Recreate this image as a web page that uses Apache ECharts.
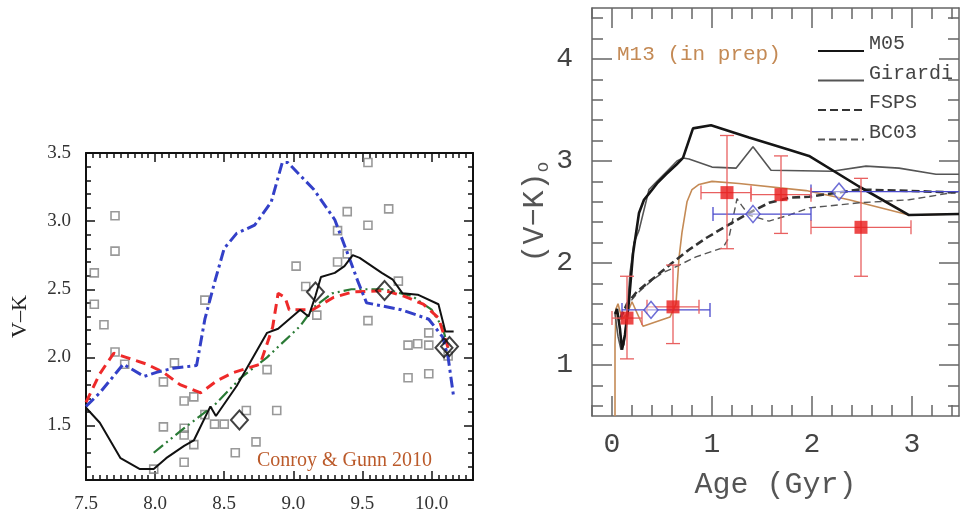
<!DOCTYPE html>
<html><head><meta charset="utf-8">
<script src="https://cdn.jsdelivr.net/npm/echarts@6.0.0/dist/echarts.min.js"></script>
<style>html,body{margin:0;padding:0;background:#fff}#c{width:963px;height:515px}</style>
</head><body><div id="c"></div>
<script>
// ---------- Left panel (Conroy & Gunn 2010): log age vs V-K ----------
const leftXTicks = [7.5, 8.0, 8.5, 9.0, 9.5, 10.0];
const leftYTicks = [1.5, 2.0, 2.5, 3.0, 3.5];

const cgBlackX = [7.5,7.6,7.75,7.89,7.99,8.08,8.21,8.28,8.40,8.44,8.59,8.81,8.89,9.05,9.11,9.16,9.20,9.30,9.37,9.43,9.48,9.64,9.72,9.79,9.90,10.05,10.10,10.16];
const cgBlackY = [1.63,1.52,1.26,1.18,1.18,1.26,1.35,1.39,1.64,1.57,1.79,2.18,2.21,2.35,2.30,2.45,2.59,2.62,2.67,2.75,2.73,2.62,2.57,2.47,2.46,2.39,2.19,2.19];

const cgBlueX = [7.5,7.6,7.77,7.92,8.01,8.13,8.30,8.36,8.43,8.50,8.59,8.72,8.84,8.92,8.96,9.15,9.30,9.39,9.47,9.53,9.78,9.98,10.08,10.12,10.16];
const cgBlueY = [1.64,1.74,1.95,1.86,1.89,1.92,1.94,2.28,2.55,2.80,2.91,2.97,3.14,3.43,3.43,3.23,3.01,2.77,2.55,2.40,2.35,2.28,2.15,2.00,1.71];

const cgRedX = [7.5,7.60,7.70,7.79,7.94,8.06,8.18,8.33,8.45,8.57,8.76,8.85,8.89,8.94,8.97,9.14,9.29,9.43,9.66,9.80,9.94,10.05,10.12];
const cgRedY = [1.67,1.88,2.03,2.00,1.95,1.89,1.80,1.74,1.83,1.89,1.95,2.22,2.47,2.44,2.35,2.35,2.44,2.48,2.49,2.45,2.39,2.29,2.07];

const cgGreenX = [7.99,8.21,8.43,8.62,8.81,9.05,9.15,9.28,9.42,9.66,9.86,10.00,10.08,10.12];
const cgGreenY = [1.30,1.48,1.65,1.85,2.00,2.23,2.37,2.47,2.50,2.50,2.45,2.35,2.22,2.07];

const clusterX = [7.56,7.56,7.63,7.71,7.71,7.71,7.78,7.99,8.06,8.06,8.14,8.21,8.21,8.21,8.21,8.28,8.28,8.36,8.36,8.43,8.50,8.58,8.66,8.73,8.81,8.88,9.02,9.09,9.17,9.32,9.32,9.39,9.39,9.54,9.54,9.54,9.69,9.76,9.83,9.83,9.90,9.98,9.98,9.98,10.12];
const clusterY = [2.62,2.39,2.24,3.04,2.78,2.04,1.95,1.18,1.82,1.49,1.96,1.68,1.48,1.43,1.23,1.71,1.36,2.42,1.58,1.51,1.51,1.30,1.61,1.38,1.91,1.61,2.67,2.52,2.31,2.93,2.70,3.07,2.76,3.43,2.97,2.27,3.09,2.56,2.09,1.85,2.10,2.18,2.09,1.88,2.01];

const diamondX = [8.61, 9.16, 9.66, 10.09, 10.13];
const diamondY = [1.54, 2.48, 2.49, 2.07, 2.08];

// ---------- Right panel: Age (Gyr) vs (V-K)o ----------
const rightXTicks = [0, 1, 2, 3];
const rightYTicks = [1, 2, 3, 4];

const m05X = [0.03,0.05,0.08,0.10,0.13,0.17,0.21,0.27,0.32,0.37,0.45,0.54,0.64,0.71,0.81,0.99,1.37,1.77,1.97,2.47,2.97,3.47];
const m05Y = [1.50,1.55,1.35,1.15,1.30,1.63,2.09,2.49,2.62,2.68,2.78,2.87,2.96,3.03,3.32,3.35,3.23,3.11,3.05,2.75,2.47,2.48];

const girX = [0.03,0.06,0.09,0.12,0.15,0.18,0.22,0.27,0.37,0.45,0.55,0.65,0.71,0.77,1.00,1.24,1.41,1.59,2.20,2.54,2.87,3.24,3.47];
const girY = [1.50,1.28,1.15,1.20,1.50,1.90,2.20,2.32,2.72,2.80,2.90,3.00,3.03,3.02,2.94,2.93,3.14,2.91,2.90,2.95,2.93,2.87,2.87];

const fspsX = [0.08,0.15,0.25,0.35,0.44,0.60,0.77,0.95,1.14,1.37,1.57,1.77,1.97,2.47,2.87,3.47];
const fspsY = [1.45,1.60,1.72,1.80,1.87,2.00,2.13,2.25,2.36,2.49,2.59,2.64,2.65,2.72,2.71,2.69];

const bc03X = [0.08,0.15,0.25,0.40,0.50,0.61,0.84,1.11,1.17,1.25,1.30,1.37,1.57,1.77,1.97,2.47,2.97,3.47];
const bc03Y = [1.45,1.58,1.70,1.83,1.90,1.95,2.06,2.15,2.25,2.63,2.56,2.47,2.41,2.47,2.54,2.59,2.62,2.70];

const m13X = [0.03,0.03,0.04,0.06,0.10,0.15,0.20,0.31,0.58,0.64,0.67,0.70,0.75,0.80,0.87,1.00,1.27,1.94,2.37,2.97,3.47];
const m13Y = [0.50,1.20,1.55,1.60,1.45,1.50,1.62,1.38,1.47,1.60,2.05,2.30,2.60,2.72,2.77,2.80,2.78,2.71,2.62,2.47,2.48];

const redX    = [0.15, 0.61, 1.15, 1.69, 2.49];
const redY    = [1.46, 1.57, 2.69, 2.67, 2.35];
const redXLo  = [0.00, 0.35, 0.89, 1.39, 1.99];
const redXHi  = [0.30, 0.87, 1.39, 1.99, 2.99];
const redYLo  = [1.06, 1.21, 2.14, 2.29, 1.87];
const redYHi  = [1.87, 1.98, 3.25, 3.05, 2.83];

const blueX   = [0.39, 1.41, 2.27];
const blueY   = [1.54, 2.48, 2.70];
const blueXLo = [0.10, 1.01, 1.99];
const blueXHi = [0.98, 1.99, 3.60];

// ---------- helpers ----------
const zip = (xs, ys) => xs.map((x, i) => [x, ys[i]]);
function steps(a, b, s) { const r = []; for (let v = a; v <= b + 1e-9; v += s) r.push(Math.round(v * 1000) / 1000); return r; }
const leftXMinor = steps(7.5, 10.3, 0.05);
const leftYMinor = steps(1.1, 3.5, 0.1);
const rightXMinor = steps(-0.2, 3.4, 0.2);
const rightYMinor = steps(0.6, 4.4, 0.2);

function mkAxes(grid, pos, min, max, majors, minors, st) {
  const base = { type: 'value', gridIndex: grid, position: pos, min: min, max: max, scale: true, splitLine: { show: false } };
  const major = Object.assign({}, base, {
    axisLine: { show: true, onZero: false, lineStyle: { color: st.color, width: st.lw } },
    axisTick: { show: true, inside: true, length: st.major, customValues: majors, lineStyle: { color: st.color, width: st.tw } },
    axisLabel: { show: !!st.labels, customValues: majors, margin: st.margin, color: st.labelColor, fontFamily: st.font, fontSize: st.fontSize, formatter: st.fmt }
  });
  const minor = Object.assign({}, base, {
    axisLine: { show: false, onZero: false },
    axisTick: { show: true, inside: true, length: st.minor, customValues: minors, lineStyle: { color: st.color, width: st.tw } },
    axisLabel: { show: false }
  });
  return [major, minor];
}

const Lst = { color: '#111', lw: 2, tw: 1.5, major: 9, minor: 5, labelColor: '#333', font: 'Liberation Serif', fontSize: 19 };
const Rst = { color: '#666', lw: 1.5, tw: 1.5, major: 20, minor: 11, labelColor: '#444', font: 'Liberation Mono', fontSize: 28 };
const f1 = v => Number(v).toFixed(1);
const f0 = v => String(Math.round(v));

const xAxes = [
  ...mkAxes(0, 'bottom', 7.5, 10.3, leftXTicks, leftXMinor, Object.assign({}, Lst, { labels: true, margin: 15, fmt: f1 })),
  ...mkAxes(0, 'top', 7.5, 10.3, leftXTicks, leftXMinor, Lst),
  ...mkAxes(1, 'bottom', -0.2, 3.47, rightXTicks, rightXMinor, Object.assign({}, Rst, { labels: true, margin: 15, fmt: f0 })),
  ...mkAxes(1, 'top', -0.2, 3.47, rightXTicks, rightXMinor, Rst)
];
const yAxes = [
  ...mkAxes(0, 'left', 1.1, 3.5, leftYTicks, leftYMinor, Object.assign({}, Lst, { labels: true, margin: 15, fmt: f1 })),
  ...mkAxes(0, 'right', 1.1, 3.5, leftYTicks, leftYMinor, Lst),
  ...mkAxes(1, 'left', 0.5, 4.5, rightYTicks, rightYMinor, Object.assign({}, Rst, { labels: true, margin: 19, fmt: f0 })),
  ...mkAxes(1, 'right', 0.5, 4.5, rightYTicks, rightYMinor, Rst)
];
// axis names
yAxes[0].name = 'V\u2013K';
yAxes[0].nameLocation = 'middle';
yAxes[0].nameGap = 55;
yAxes[0].nameTextStyle = { fontFamily: 'Liberation Serif', fontSize: 22, color: '#222' };
xAxes[4].name = 'Age (Gyr)';
xAxes[4].nameLocation = 'middle';
xAxes[4].nameGap = 54;
xAxes[4].nameTextStyle = { fontFamily: 'Liberation Mono', fontSize: 30, color: '#555' };
yAxes[4].name = '{a|(V\u2212K)}{s|o}';
yAxes[4].nameLocation = 'middle';
yAxes[4].nameGap = 30;
yAxes[4].nameTextStyle = { color: '#555', rich: { a: { fontFamily: 'Liberation Mono', fontSize: 30, color: '#555', lineHeight: 34 }, s: { fontFamily: 'Liberation Mono', fontSize: 18, color: '#555', verticalAlign: 'bottom', lineHeight: 22 } } };

function lineL(name, xs, ys, color, width, dash, z) {
  return { name: name, type: 'line', xAxisIndex: 0, yAxisIndex: 0, data: zip(xs, ys), symbol: 'none', clip: true, z: z || 2,
    lineStyle: { color: color, width: width, type: dash || 'solid' }, itemStyle: { color: color } };
}
function lineR(name, xs, ys, color, width, dash, z) {
  return { name: name, type: 'line', xAxisIndex: 4, yAxisIndex: 4, data: zip(xs, ys), symbol: 'none', clip: true, z: z || 2,
    lineStyle: { color: color, width: width, type: dash || 'solid' }, itemStyle: { color: color } };
}

function errRender(capH) {
  return function (params, api) {
    const x = api.value(0), y = api.value(1), xlo = api.value(2), xhi = api.value(3), ylo = api.value(4), yhi = api.value(5);
    const color = api.visual('color');
    const st = { stroke: color, lineWidth: 1.3 };
    const pl = api.coord([xlo, y]), pr = api.coord([xhi, y]);
    const ch = [];
    ch.push({ type: 'line', shape: { x1: pl[0], y1: pl[1], x2: pr[0], y2: pr[1] }, style: st });
    ch.push({ type: 'line', shape: { x1: pl[0], y1: pl[1] - capH, x2: pl[0], y2: pl[1] + capH }, style: st });
    ch.push({ type: 'line', shape: { x1: pr[0], y1: pr[1] - capH, x2: pr[0], y2: pr[1] + capH }, style: st });
    if (yhi !== ylo) {
      const pt = api.coord([x, yhi]), pb = api.coord([x, ylo]);
      ch.push({ type: 'line', shape: { x1: pt[0], y1: pt[1], x2: pb[0], y2: pb[1] }, style: st });
      ch.push({ type: 'line', shape: { x1: pt[0] - capH, y1: pt[1], x2: pt[0] + capH, y2: pt[1] }, style: st });
      ch.push({ type: 'line', shape: { x1: pb[0] - capH, y1: pb[1], x2: pb[0] + capH, y2: pb[1] }, style: st });
    }
    return { type: 'group', children: ch };
  };
}

const redErrData = redX.map((x, i) => [x, redY[i], redXLo[i], redXHi[i], redYLo[i], redYHi[i]]);
const blueErrData = blueX.map((x, i) => [x, blueY[i], blueXLo[i], blueXHi[i], blueY[i], blueY[i]]);

const option = {
  animation: false,
  backgroundColor: '#ffffff',
  grid: [
    { left: 86, top: 153, width: 387, height: 327 },
    { left: 592, top: 8, width: 367, height: 408 }
  ],
  xAxis: xAxes,
  yAxis: yAxes,
  legend: {
    data: ['M05', 'Girardi', 'FSPS', 'BC03'],
    orient: 'vertical', left: 812, top: 29, itemWidth: 46, itemHeight: 12, itemGap: -4.5,
    selectedMode: false,
    itemStyle: { opacity: 0 },
    formatter: '{t|{name}}',
    textStyle: { fontFamily: 'Liberation Mono', fontSize: 20, color: '#444',
      rich: { t: { fontFamily: 'Liberation Mono', fontSize: 20, color: '#444', lineHeight: 20, padding: [0, 0, 14, 0] } } }
  },
  graphic: [
    { type: 'text', left: 617, top: 44, style: { text: 'M13 (in prep)', fontFamily: 'Liberation Mono', fontSize: 21, fill: '#c48a55' } },
    { type: 'text', left: 257, top: 451, style: { text: 'Conroy & Gunn 2010', fontFamily: 'Liberation Serif', fontSize: 20, fill: '#bb5a2a' } }
  ],
  series: [
    // left panel
    { name: 'clusters', type: 'scatter', xAxisIndex: 0, yAxisIndex: 0, data: zip(clusterX, clusterY), symbol: 'rect', symbolSize: 8,
      itemStyle: { color: 'rgba(0,0,0,0)', borderColor: '#808080', borderWidth: 1.6 }, z: 1 },
    lineL('green', cgGreenX, cgGreenY, '#2a7a35', 2.2, [12, 4, 2, 4, 2, 4], 2),
    lineL('red', cgRedX, cgRedY, '#ee2a2a', 3, [10, 6], 3),
    lineL('blue', cgBlueX, cgBlueY, '#3340c8', 3, [11, 4, 3, 4], 3),
    lineL('black', cgBlackX, cgBlackY, '#111111', 2, 'solid', 4),
    { name: 'diamonds', type: 'scatter', xAxisIndex: 0, yAxisIndex: 0, data: zip(diamondX, diamondY), symbol: 'diamond', symbolSize: [17, 19],
      itemStyle: { color: 'rgba(0,0,0,0)', borderColor: '#111', borderWidth: 2 }, z: 5 },
    // right panel
    lineR('M13', m13X, m13Y, '#c48a55', 1.6, 'solid', 2),
    lineR('BC03', bc03X, bc03Y, '#555555', 1.4, [7, 4], 2),
    lineR('FSPS', fspsX, fspsY, '#333333', 2.6, [8, 4], 3),
    lineR('Girardi', girX, girY, '#555555', 1.6, 'solid', 3),
    lineR('M05', m05X, m05Y, '#151515', 2.6, 'solid', 4),
    { name: 'blueErr', type: 'custom', xAxisIndex: 4, yAxisIndex: 4, data: blueErrData, clip: true,
      encode: { x: [0, 2, 3], y: [1, 4, 5] }, itemStyle: { color: '#4a4acc' }, renderItem: errRender(7), z: 5 },
    { name: 'redErr', type: 'custom', xAxisIndex: 4, yAxisIndex: 4, data: redErrData, clip: true,
      encode: { x: [0, 2, 3], y: [1, 4, 5] }, itemStyle: { color: '#e86060' }, renderItem: errRender(7), z: 6 },
    { name: 'blueDiamonds', type: 'scatter', xAxisIndex: 4, yAxisIndex: 4, data: zip(blueX, blueY), symbol: 'diamond', symbolSize: [14, 17],
      itemStyle: { color: 'rgba(255,255,255,0.6)', borderColor: '#4a4acc', borderWidth: 1.5 }, z: 7 },
    { name: 'redSquares', type: 'scatter', xAxisIndex: 4, yAxisIndex: 4, data: zip(redX, redY), symbol: 'rect', symbolSize: 13,
      itemStyle: { color: '#e81c1c' }, z: 8 }
  ]
};

const chart = echarts.init(document.getElementById('c'), null, { renderer: 'canvas' });
chart.setOption(option);
</script></body></html>
